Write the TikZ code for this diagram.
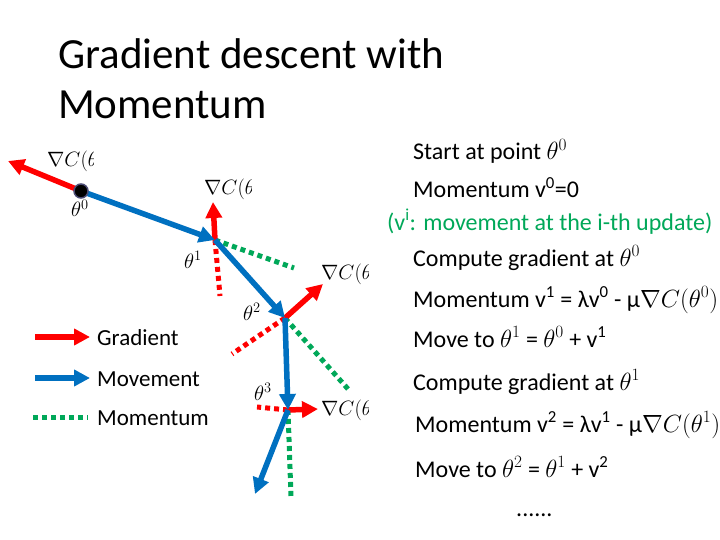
\documentclass[tikz,border=0pt]{standalone}
\usepackage[no-math]{fontspec}
\setmainfont{Carlito}
\usetikzlibrary{arrows.meta}
\definecolor{gred}{RGB}{255,0,0}
\definecolor{mblue}{RGB}{0,112,192}
\definecolor{mgreen}{RGB}{0,168,89}
\tikzset{
  gradarrow/.style={draw=gred, line width=5.5pt, -{Triangle[length=16pt,width=16pt]}},
  movearrow/.style={draw=mblue, line width=5.5pt, -{Triangle[length=16pt,width=16pt]}},
  momdots/.style={draw=mgreen, line width=5pt, dash pattern=on 5pt off 4pt},
  graddots/.style={draw=gred, line width=5pt, dash pattern=on 5pt off 4pt},
  bodytext/.style={anchor=base west, inner sep=0pt, font=\fontsize{24}{28}\selectfont},
  legtext/.style={anchor=base west, inner sep=0pt, font=\fontsize{23}{27}\selectfont},
  mathlabel/.style={anchor=base west, inner sep=0pt, font=\fontsize{21.5}{25}\selectfont},
  titletext/.style={anchor=base west, inner sep=0pt, font=\fontsize{43}{50}\selectfont},
}
\begin{document}
\begin{tikzpicture}[x=1pt,y=-1pt]
\useasboundingbox (0,0) rectangle (720,540);
\fill[white] (0,0) rectangle (720,540);

% title
\node[titletext] (t1) at (58,69) {Gradient descent with};
\node[titletext] (t2) at (58,119) {Momentum};

% points
\coordinate (p0) at (81,191);
\coordinate (p1) at (215,240);
\coordinate (p2) at (285,318);
\coordinate (p3) at (288,410);
\coordinate (p4) at (255,494);
\coordinate (g0) at (8,161);
\coordinate (g1) at (213,202);
\coordinate (g2) at (323,284);
\coordinate (g3) at (318,409);
\coordinate (r1) at (220,296);
\coordinate (r2) at (232,354);
\coordinate (r3) at (257,407);
\coordinate (m1) at (294,268);
\coordinate (m2) at (348,389);
\coordinate (m3) at (291,497);

% dotted lines
\draw[graddots] (p1) -- (r1);
\draw[graddots] (p2) -- (r2);
\draw[graddots] (p3) -- (r3);
\draw[momdots] (p1) -- (m1);
\draw[momdots] (p2) -- (m2);
\draw[momdots] (p3) -- (m3);

% gradient arrows
\draw[gradarrow] (p0) -- (g0);
\draw[gradarrow] (p1) -- (g1);
\draw[gradarrow] (p2) -- (g2);
\draw[gradarrow] (p3) -- (g3);

% movement arrows
\draw[movearrow] (p0) -- (p1);
\draw[movearrow] (p1) -- (p2);
\draw[movearrow] (p2) -- (p3);
\draw[movearrow] (p3) -- (p4);

% start point
\node[circle, fill=black, draw=black!60!blue!40!gray, line width=1.5pt, minimum size=14pt, inner sep=0pt] (dot0) at (p0) {};

% theta labels
\node[mathlabel] (th0) at (71,217) {$\theta^0$};
\node[mathlabel] (th1) at (184,268) {$\theta^1$};
\node[mathlabel] (th2) at (243,320) {$\theta^2$};
\node[mathlabel] (th3) at (254,400) {$\theta^3$};

% truncated gradient labels
\begin{scope}
\clip (40,140) rectangle (93,178);
\node[mathlabel] (gl0) at (47,167) {$\nabla C(\theta$};
\end{scope}
\begin{scope}
\clip (195,168) rectangle (251,206);
\node[mathlabel] (gl1) at (204,195) {$\nabla C(\theta$};
\end{scope}
\begin{scope}
\clip (312,252) rectangle (368,290);
\node[mathlabel] (gl2) at (321,279) {$\nabla C(\theta$};
\end{scope}
\begin{scope}
\clip (312,388) rectangle (368,426);
\node[mathlabel] (gl3) at (321,415) {$\nabla C(\theta$};
\end{scope}

% legend
\coordinate (la0) at (35,337); \coordinate (la1) at (90,337);
\coordinate (lb0) at (35,378); \coordinate (lb1) at (90,378);
\coordinate (lc0) at (33,417); \coordinate (lc1) at (88,417);
\draw[gradarrow] (la0) -- (la1);
\draw[movearrow] (lb0) -- (lb1);
\draw[momdots] (lc0) -- (lc1);
\node[legtext] (lg1) at (97,345) {Gradient};
\node[legtext] (lg2) at (97,386) {Movement};
\node[legtext] (lg3) at (97,425) {Momentum};

% right text
\node[bodytext] (s1) at (413,160) {Start at point $\theta^0$};
\node[bodytext] (s2) at (413,198) {Momentum v\textsuperscript{0}=0};
\node[bodytext, text=mgreen] (s3) at (387,230) {(v\textsuperscript{i}: movement at the i-th update)};
\node[bodytext] (s4) at (413,266) {Compute gradient at $\theta^0$};
\node[bodytext] (s5) at (413,307) {Momentum v\textsuperscript{1} = λv\textsuperscript{0} - μ$\nabla C(\theta^0)$};
\node[bodytext] (s6) at (413,347) {Move to $\theta^1$ = $\theta^0$ + v\textsuperscript{1}};
\node[bodytext] (s7) at (413,390) {Compute gradient at $\theta^1$};
\node[bodytext] (s8) at (415,432) {Momentum v\textsuperscript{2} = λv\textsuperscript{1} - μ$\nabla C(\theta^1)$};
\node[bodytext] (s9) at (415,477) {Move to $\theta^2$ = $\theta^1$ + v\textsuperscript{2}};
\node[bodytext] (s10) at (516,516) {......};
\end{tikzpicture}
\end{document}
